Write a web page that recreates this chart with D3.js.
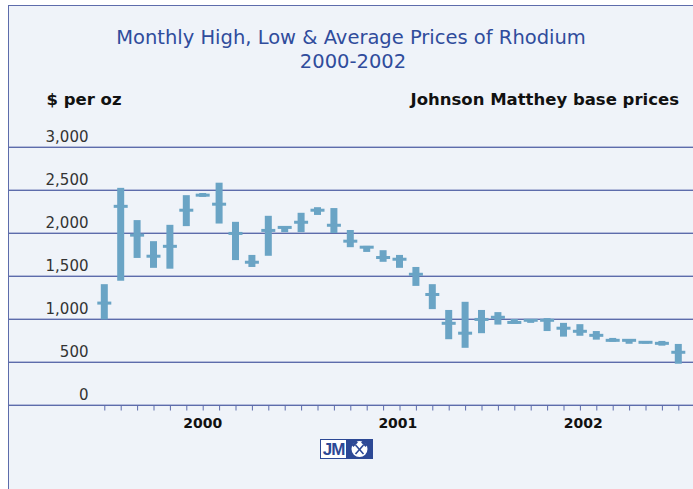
<!DOCTYPE html>
<html><head><meta charset="utf-8">
<script src="https://cdn.jsdelivr.net/npm/d3@7"></script>
<style>html,body{margin:0;padding:0;background:#fff;} svg{display:block;}</style>
</head><body>
<svg id="c" width="693" height="489"></svg>
<script>
const months = ["2000-01","2000-02","2000-03","2000-04","2000-05","2000-06","2000-07","2000-08","2000-09","2000-10","2000-11","2000-12",
                "2001-01","2001-02","2001-03","2001-04","2001-05","2001-06","2001-07","2001-08","2001-09","2001-10","2001-11","2001-12",
                "2002-01","2002-02","2002-03","2002-04","2002-05","2002-06","2002-07","2002-08","2002-09","2002-10","2002-11","2002-12"];
const high = [1405, 2525, 2150, 1905, 2095, 2440, 2465, 2585, 2130, 1745, 2200, 2080,
              2235, 2300, 2290, 2035, 1850, 1800, 1745, 1605, 1405, 1105, 1200, 1105,
              1080, 1000, 1000, 1010, 955, 940, 860, 780, 765, 743, 745, 710];
const low  = [995, 1445, 1710, 1595, 1585, 2080, 2420, 2110, 1685, 1605, 1735, 2010,
              2010, 2210, 2000, 1835, 1780, 1665, 1595, 1385, 1115, 765, 665, 835,
              935, 945, 955, 860, 795, 805, 760, 735, 712, 714, 690, 480];
const avg  = [1185, 2310, 1975, 1730, 1845, 2265, 2440, 2335, 1995, 1660, 2030, 2065,
              2125, 2265, 2090, 1905, 1835, 1715, 1695, 1520, 1285, 950, 835, 995,
              1020, 960, 985, 985, 893, 857, 810, 752, 752, 729, 717, 613];
const yTickValues = [0, 500, 1000, 1500, 2000, 2500, 3000];
const yearLabels = ["2000", "2001", "2002"];
const yearLabelAt = [6, 17.9, 29.2];

const W = 693, H = 489;
const svg = d3.select("#c");
const font = "'DejaVu Sans', Verdana, sans-serif";
const gridDark = "#5d6cab", gridLight = "#b4bcdb";
const barColor = "#6aa4c5";

// frame
svg.append("rect").attr("x", 8.5).attr("y", 5.5).attr("width", W).attr("height", H)
  .attr("fill", "#eff3f9").attr("stroke", gridDark).attr("stroke-width", 1);

const x = d3.scalePoint().domain(months).range([104.3, 678.3]);
const xIdx = d3.scaleLinear().domain([0, months.length - 1]).range([104.3, 678.3]);
const y = d3.scaleLinear().domain([0, 3000]).range([405, 147]);

// gridlines
const grid = svg.append("g");
yTickValues.forEach(v => {
  const yy = Math.round(y(v));
  grid.append("line").attr("x1", 9).attr("x2", W).attr("y1", yy - 0.5).attr("y2", yy - 0.5)
    .attr("stroke", gridLight).attr("stroke-width", 1);
  grid.append("line").attr("x1", 9).attr("x2", W).attr("y1", yy + 0.5).attr("y2", yy + 0.5)
    .attr("stroke", gridDark).attr("stroke-width", 1);
});

// y labels
svg.append("g").selectAll("text").data(yTickValues).join("text")
  .attr("x", 88.5).attr("y", d => y(d) - 5)
  .attr("text-anchor", "end")
  .attr("font-family", font).attr("font-size", 15).attr("fill", "#333")
  .text(d => d3.format(",")(d));

// x axis ticks
const xAxis = d3.axisBottom(xIdx).tickValues(d3.range(months.length)).tickSize(5).tickFormat("");
const gx = svg.append("g").attr("transform", "translate(0,405.5)").call(xAxis);
gx.select(".domain").remove();
gx.selectAll(".tick line").attr("stroke", gridDark);

// year labels
svg.append("g").selectAll("text").data(yearLabels).join("text")
  .attr("x", (d, i) => xIdx(yearLabelAt[i])).attr("y", 428)
  .attr("text-anchor", "middle")
  .attr("font-family", font).attr("font-size", 14).attr("font-weight", "bold").attr("fill", "#111")
  .text(d => d);

// bars
const data = months.map((m, i) => ({m, hi: high[i], lo: low[i], av: avg[i]}));
const bars = svg.append("g");
bars.selectAll("rect.rng").data(data).join("rect").attr("class", "rng")
  .attr("x", d => x(d.m) - 3.5).attr("width", 7)
  .attr("y", d => y(d.hi)).attr("height", d => Math.max(1, y(d.lo) - y(d.hi)))
  .attr("fill", barColor);
bars.selectAll("rect.avg").data(data).join("rect").attr("class", "avg")
  .attr("x", d => x(d.m) - 7).attr("width", 14)
  .attr("y", d => y(d.av) - 1.5).attr("height", 3)
  .attr("fill", barColor);

// titles
svg.append("text").attr("x", 351).attr("y", 44).attr("text-anchor", "middle")
  .attr("font-family", font).attr("font-size", 19.5).attr("fill", "#2f4c9c")
  .text("Monthly High, Low & Average Prices of Rhodium");
svg.append("text").attr("x", 353).attr("y", 68).attr("text-anchor", "middle")
  .attr("font-family", font).attr("font-size", 19.5).attr("fill", "#2f4c9c")
  .text("2000-2002");
svg.append("text").attr("x", 46.5).attr("y", 105)
  .attr("font-family", font).attr("font-size", 16.5).attr("font-weight", "bold").attr("fill", "#111")
  .text("$ per oz");
svg.append("text").attr("x", 679).attr("y", 105).attr("text-anchor", "end")
  .attr("font-family", font).attr("font-size", 16.5).attr("font-weight", "bold").attr("fill", "#111")
  .text("Johnson Matthey base prices");

// logo
const logoBlue = "#2c4895";
const lg = svg.append("g");
lg.append("rect").attr("x", 320.5).attr("y", 439.5).attr("width", 26).attr("height", 19)
  .attr("fill", "#fff").attr("stroke", logoBlue);
lg.append("text").attr("x", 333.5).attr("y", 455).attr("text-anchor", "middle")
  .attr("font-family", "'Liberation Sans', Arial, sans-serif").attr("font-size", 17).attr("font-weight", "bold")
  .attr("fill", logoBlue).attr("letter-spacing", -1).text("JM");
lg.append("rect").attr("x", 346.5).attr("y", 439.5).attr("width", 26).attr("height", 19)
  .attr("fill", logoBlue).attr("stroke", logoBlue);
lg.append("circle").attr("cx", 359.5).attr("cy", 449).attr("r", 8).attr("fill", "#fff");
lg.append("line").attr("x1", 355.5).attr("y1", 445).attr("x2", 363.5).attr("y2", 454)
  .attr("stroke", logoBlue).attr("stroke-width", 1.6);
lg.append("line").attr("x1", 363.5).attr("y1", 445).attr("x2", 355.5).attr("y2", 454)
  .attr("stroke", logoBlue).attr("stroke-width", 1.6);
lg.append("path").attr("d", "M352.5,446 L357,441.5 M362,441.5 L366.5,446")
  .attr("stroke", logoBlue).attr("stroke-width", 2.6);
</script>
</body></html>
